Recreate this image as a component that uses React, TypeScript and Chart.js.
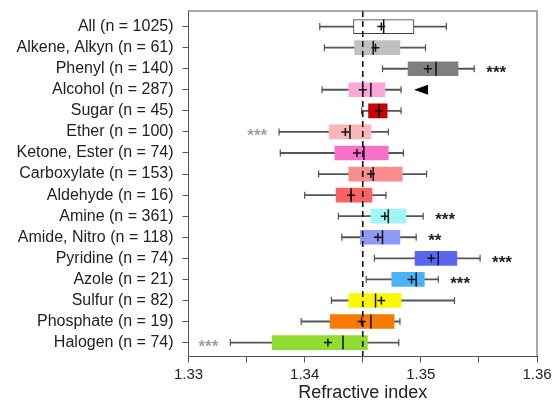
import React, { useEffect, useRef } from "react";
import { Chart, registerables } from "chart.js";

Chart.register(...registerables);

const categories = [
  "All (n = 1025)",
  "Alkene, Alkyn (n = 61)",
  "Phenyl (n = 140)",
  "Alcohol (n = 287)",
  "Sugar (n = 45)",
  "Ether (n = 100)",
  "Ketone, Ester (n = 74)",
  "Carboxylate (n = 153)",
  "Aldehyde (n = 16)",
  "Amine (n = 361)",
  "Amide, Nitro (n = 118)",
  "Pyridine (n = 74)",
  "Azole (n = 21)",
  "Sulfur (n = 82)",
  "Phosphate (n = 19)",
  "Halogen (n = 74)",
];

const whiskerMin = [1.3413, 1.3417, 1.3467, 1.3415, 1.3449, 1.3378, 1.3379, 1.3412, 1.34, 1.3429, 1.3432, 1.346, 1.3453, 1.3423, 1.3397, 1.3336];
const q1 = [1.3442, 1.3443, 1.3489, 1.3438, 1.3455, 1.3421, 1.3426, 1.3438, 1.3427, 1.3457, 1.3448, 1.3495, 1.3475, 1.3438, 1.3422, 1.3372];
const median = [1.3468, 1.3459, 1.3513, 1.3457, 1.3464, 1.3439, 1.3451, 1.3459, 1.344, 1.3472, 1.3467, 1.3515, 1.3496, 1.3461, 1.3457, 1.3433];
const q3 = [1.3494, 1.3482, 1.3532, 1.3469, 1.3471, 1.3457, 1.3472, 1.3484, 1.3458, 1.3487, 1.3482, 1.3531, 1.3503, 1.3483, 1.3477, 1.3454];
const whiskerMax = [1.3522, 1.3504, 1.3546, 1.3483, 1.3483, 1.3472, 1.3485, 1.3505, 1.347, 1.3502, 1.3496, 1.3551, 1.3515, 1.3529, 1.3482, 1.3481];
const mean = [1.3466, 1.3461, 1.3506, 1.345, 1.3464, 1.3435, 1.3445, 1.3457, 1.344, 1.3469, 1.3463, 1.3509, 1.3492, 1.3466, 1.3449, 1.342];

const boxColors = [
  "#ffffff", "#c0c0c0", "#7f7f7f", "#f9a8d8", "#c80000", "#f8b8b8", "#f870c8", "#f88e8e",
  "#f86464", "#a0f6f6", "#8e9af8", "#5a66f0", "#4ab2f8", "#f8f800", "#f87a00", "#90dc30",
];

const sigRight = ["", "", "***", "", "", "", "", "", "", "***", "**", "***", "***", "", "", ""];
const sigLeft = ["", "", "", "", "", "***", "", "", "", "", "", "", "", "", "", "***"];
const markerRight = ["", "", "", "triangle", "", "", "", "", "", "", "", "", "", "", "", ""];

const referenceValue = 1.345;
const xMin = 1.33;
const xMax = 1.36;
const xTickStep = 0.005;
const xTitle = "Refractive index";

const FONT = "'Liberation Sans', Arial, sans-serif";

export default function App() {
  const ref = useRef<HTMLCanvasElement>(null);

  useEffect(() => {
    if (!ref.current) return;
    const idx = categories.map((_, i) => i);

    const overlay = {
      id: "overlay",
      afterDatasetsDraw(chart: any) {
        const { ctx, chartArea, scales } = chart;
        const xs = scales.x;
        const ys = scales.y;
        ctx.save();
        // reference dashed line
        const rx = xs.getPixelForValue(referenceValue);
        ctx.strokeStyle = "#111";
        ctx.lineWidth = 1.6;
        ctx.setLineDash([6, 4]);
        ctx.beginPath();
        ctx.moveTo(rx, chartArea.top);
        ctx.lineTo(rx, chartArea.bottom);
        ctx.stroke();
        ctx.setLineDash([]);
        // frame
        ctx.strokeStyle = "#555";
        ctx.lineWidth = 1;
        ctx.strokeRect(chartArea.left, chartArea.top, chartArea.right - chartArea.left, chartArea.bottom - chartArea.top);
        // significance annotations
        ctx.font = `bold 17px ${FONT}`;
        ctx.textBaseline = "middle";
        idx.forEach((i) => {
          const y = ys.getPixelForValue(i);
          if (sigRight[i]) {
            ctx.fillStyle = "#222";
            ctx.textAlign = "left";
            ctx.fillText(sigRight[i], xs.getPixelForValue(whiskerMax[i]) + 12, y + 4.5);
          }
          if (sigLeft[i]) {
            ctx.fillStyle = "#a0a0a0";
            ctx.textAlign = "right";
            ctx.fillText(sigLeft[i], xs.getPixelForValue(whiskerMin[i]) - 12, y + 4.5);
          }
          if (markerRight[i] === "triangle") {
            const x0 = xs.getPixelForValue(whiskerMax[i]) + 13;
            ctx.fillStyle = "#000";
            ctx.beginPath();
            ctx.moveTo(x0, y);
            ctx.lineTo(x0 + 14, y - 5);
            ctx.lineTo(x0 + 14, y + 5);
            ctx.closePath();
            ctx.fill();
          }
        });
        ctx.restore();
      },
    };

    const chart = new Chart(ref.current, {
      type: "bar",
      data: {
        datasets: [
          {
            type: "scatter",
            label: "mean",
            data: idx.map((i) => ({ x: mean[i], y: i })),
            pointStyle: "cross",
            radius: 4,
            borderColor: "#111",
            borderWidth: 1.5,
            backgroundColor: "#111",
          } as any,
          {
            type: "scatter",
            label: "median",
            data: idx.map((i) => ({ x: median[i], y: i })),
            pointStyle: "line",
            rotation: 90,
            radius: 7,
            borderColor: "#111",
            borderWidth: 1.5,
          } as any,
          {
            type: "scatter",
            label: "caps",
            data: [
              ...idx.map((i) => ({ x: whiskerMin[i], y: i })),
              ...idx.map((i) => ({ x: whiskerMax[i], y: i })),
            ],
            pointStyle: "line",
            rotation: 90,
            radius: 3.5,
            borderColor: "#555",
            borderWidth: 1.2,
          } as any,
          {
            type: "bar",
            label: "box",
            data: idx.map((i) => ({ x: [q1[i], q3[i]], y: i })),
            backgroundColor: boxColors,
            borderColor: idx.map((i) => (i === 0 ? "#444" : boxColors[i])),
            borderWidth: (c: any) => (c.dataIndex === 0 ? 1 : 0),
            borderSkipped: false,
            barThickness: 14,
            grouped: false,
          } as any,
          {
            type: "bar",
            label: "whisker",
            data: idx.map((i) => ({ x: [whiskerMin[i], whiskerMax[i]], y: i })),
            backgroundColor: "#555",
            borderWidth: 0,
            barThickness: 1.2,
            grouped: false,
          } as any,
        ],
      },
      options: {
        indexAxis: "y",
        animation: false,
        responsive: false,
        maintainAspectRatio: false,
        layout: { padding: { top: 11, right: 18, bottom: 10, left: 0 } },
        plugins: { legend: { display: false }, tooltip: { enabled: false } },
        scales: {
          x: {
            type: "linear",
            min: xMin,
            max: xMax,
            afterBuildTicks: (axis: any) => {
              const n = Math.round((xMax - xMin) / xTickStep);
              axis.ticks = Array.from({ length: n + 1 }, (_, k) => ({ value: +(xMin + k * xTickStep).toFixed(3) }));
            },
            afterFit: (axis: any) => {
              axis.height = 47.5;
              axis.paddingLeft = 0;
              axis.paddingRight = 0;
            },
            ticks: {
              autoSkip: false,
              maxRotation: 0,
              color: "#222",
              font: { family: FONT, size: 15 },
              padding: 3,
              callback: (v: any) => {
                const k = Math.round((v - xMin) / xTickStep);
                return k % 2 === 0 ? Number(v).toFixed(2) : "";
              },
            },
            grid: { drawOnChartArea: false, drawTicks: true, tickLength: 6, color: "#555" },
            border: { display: true, color: "#555" },
            title: {
              display: true,
              text: xTitle,
              color: "#222",
              font: { family: FONT, size: 18 },
              padding: { top: 2, bottom: 0 },
            },
          },
          y: {
            type: "linear",
            reverse: true,
            offset: false,
            min: -0.74,
            max: 15.66,
            afterBuildTicks: (axis: any) => {
              axis.ticks = idx.map((i) => ({ value: i }));
            },
            afterFit: (axis: any) => {
              axis.width = 188.5;
              axis.paddingTop = 0;
              axis.paddingBottom = 0;
            },
            ticks: {
              autoSkip: false,
              color: "#222",
              font: { family: FONT, size: 16 },
              padding: 9,
              callback: (v: any) => categories[v] ?? "",
            },
            grid: { drawOnChartArea: false, drawTicks: true, tickLength: 6, color: "#555", offset: false },
            border: { display: true, color: "#555" },
          },
        },
      } as any,
      plugins: [overlay],
    });
    return () => chart.destroy();
  }, []);

  return (
    <div style={{ position: "fixed", left: 0, top: 0, width: 555, height: 414, background: "#fff" }}>
      <canvas ref={ref} width={555} height={414} style={{ width: 555, height: 414 }} />
    </div>
  );
}
